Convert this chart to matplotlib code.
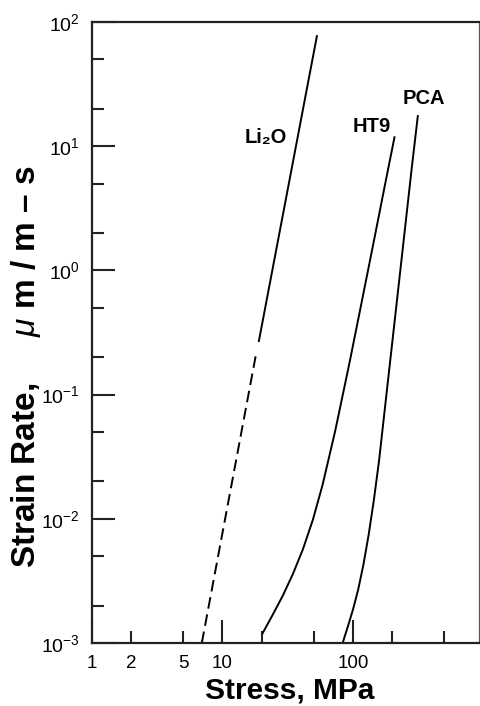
import numpy as np
import matplotlib
matplotlib.use("Agg")
from matplotlib import pyplot as plt
from matplotlib.ticker import FixedLocator, FixedFormatter, LogFormatterSciNotation

plt.rcParams['font.family'] = ['Liberation Sans', 'DejaVu Sans']
plt.rcParams['mathtext.fontset'] = 'custom'
plt.rcParams['mathtext.rm'] = 'Liberation Sans'
plt.rcParams['mathtext.it'] = 'Liberation Sans:italic'
plt.rcParams['mathtext.bf'] = 'Liberation Sans:bold'

# data (stress in MPa, strain rate in um/m-s)
li2o_dash_x = [6.94, 18.2]
li2o_dash_y = [1.0e-3, 0.22]
li2o_solid_x = [19.0, 52.9]
li2o_solid_y = [0.27, 77.0]

ht9_x = [20.3, 24.2, 29.0, 34.7, 41.4, 49.3, 58.5, 73.0, 94.0, 119.0, 145.0, 175.0, 208.0]
ht9_y = [1.20e-3, 1.68e-3, 2.41e-3, 3.61e-3, 5.71e-3, 9.84e-3, 0.0188, 0.0508, 0.180, 0.619, 1.75, 4.76, 11.8]

pca_x = [83.8, 91.2, 100.0, 109.6, 120.2, 131.8, 144.5, 158.5, 177.8, 199.5, 223.9, 251.2, 281.8, 314.0]
pca_y = [1.02e-3, 1.35e-3, 1.86e-3, 2.69e-3, 4.27e-3, 7.41e-3, 0.0141, 0.0295, 0.0871, 0.257, 0.759, 2.24, 6.61, 17.5]

labels = ['Li\u2082O', 'HT9', 'PCA']
label_x = [21.4, 139.0, 350.0]
label_y = [11.7, 14.4, 24.2]

x_major = [1, 10, 100]
x_minor = [2, 5, 20, 50, 200, 500]
x_minor_labels = ['2', '5', '', '', '', '']
y_major = [1e-3, 1e-2, 1e-1, 1e0, 1e1, 1e2]

fig = plt.figure(figsize=(4.8, 7.06), dpi=100)
ax = fig.add_axes([0.1917, 0.0892, 0.8063, 0.8796])

lw = 1.4
ax.plot(li2o_dash_x, li2o_dash_y, color='black', lw=lw, dashes=(6, 3))
ax.plot(li2o_solid_x, li2o_solid_y, color='black', lw=lw)
ax.plot(ht9_x, ht9_y, color='black', lw=lw)
ax.plot(pca_x, pca_y, color='black', lw=lw)

for t, x, y in zip(labels, label_x, label_y):
    ax.text(x, y, t, ha='center', va='center', fontsize=14.5, fontweight='bold')

ax.set_xscale('log')
ax.set_yscale('log')
ax.set_xlim(1, 925)
ax.set_ylim(1e-3, 1e2)

ax.xaxis.set_major_locator(FixedLocator(x_major))
ax.xaxis.set_major_formatter(FixedFormatter([str(v) for v in x_major]))
ax.xaxis.set_minor_locator(FixedLocator(x_minor))
ax.xaxis.set_minor_formatter(FixedFormatter(x_minor_labels))

ax.yaxis.set_major_locator(FixedLocator(y_major))
ax.yaxis.set_major_formatter(LogFormatterSciNotation())
y_minor = [m * d for d in y_major[:-1] for m in (2, 5)]
ax.yaxis.set_minor_locator(FixedLocator(y_minor))
ax.yaxis.set_minor_formatter(FixedFormatter([''] * len(y_minor)))

ax.tick_params(which='both', direction='in', top=False, right=False,
               pad=8.5, width=1.5, color='#222222')
ax.tick_params(axis='x', which='both', labelsize=13.5)
ax.tick_params(axis='y', which='both', labelsize=14)
ax.tick_params(which='major', length=16.5)
ax.tick_params(which='minor', length=8.5)

for side in ['left', 'bottom', 'top']:
    ax.spines[side].set_linewidth(1.6)
    ax.spines[side].set_color('#222222')
ax.spines['right'].set_linewidth(0.9)
ax.spines['right'].set_color('#555555')

ax.set_xlabel('Stress, MPa', fontsize=21.5, fontweight='bold')
ax.set_ylabel('Strain Rate,     $\\mu$ m / m \u2013 s', fontsize=24, fontweight='bold')
ax.xaxis.set_label_coords(0.512, -0.054)
ax.yaxis.set_label_coords(-0.127, 0.446)

fig.savefig('out.png', dpi=100)
